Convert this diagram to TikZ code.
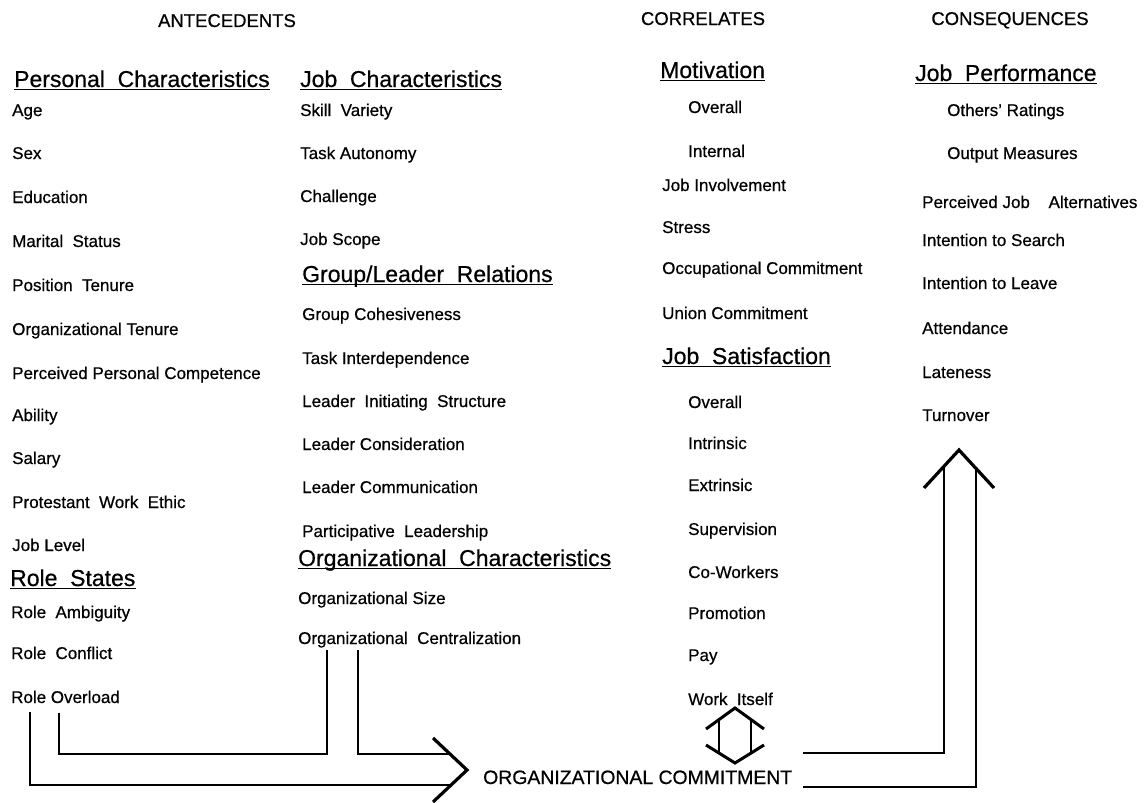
\documentclass[tikz,border=0pt]{standalone}
\usepackage{fontspec}
\setmainfont{Liberation Sans}[FakeBold=0.6]
\newcommand{\hsp}{\hspace{0.55em}}
\tikzset{
  item/.style={anchor=base west, inner sep=0pt, font=\fontsize{17}{20}\selectfont},
  head/.style={anchor=base west, inner sep=0pt, font=\fontsize{23}{26}\selectfont},
  ttl/.style={anchor=base, inner sep=0pt, font=\fontsize{18.5}{22}\selectfont},
  uline/.style={line width=1.6pt},
  pipe/.style={line width=2.6pt, line join=miter, line cap=butt},
}
\begin{document}
\begin{tikzpicture}[x=1pt,y=-1pt]
\path[use as bounding box] (0,0) rectangle (1146,803);
% titles
\node[ttl] (tant) at (227,27) {ANTECEDENTS};
\node[ttl] (tcor) at (703,25) {CORRELATES};
\node[ttl] (tcon) at (1010,25) {CONSEQUENCES};
% column 1
\node[head] (hpc) at (14,87) {Personal\hsp Characteristics};
\node[item] (a1) at (12,116) {Age};
\node[item] (a2) at (12,159) {Sex};
\node[item] (a3) at (12,203) {Education};
\node[item] (a4) at (12,247) {Marital\hsp Status};
\node[item] (a5) at (12,291) {Position\hsp Tenure};
\node[item] (a6) at (12,335) {Organizational Tenure};
\node[item] (a7) at (12,379) {Perceived Personal Competence};
\node[item] (a8) at (12,421) {Ability};
\node[item] (a9) at (12,464) {Salary};
\node[item] (a10) at (12,508) {Protestant\hsp Work\hsp Ethic};
\node[item] (a11) at (12,551) {Job Level};
\node[head] (hrs) at (10,586) {Role\hsp States};
\node[item] (r1) at (11,618) {Role\hsp Ambiguity};
\node[item] (r2) at (11,659) {Role\hsp Conflict};
\node[item] (r3) at (11,703) {Role Overload};
% column 2
\node[head] (hjc) at (300,87) {Job\hsp Characteristics};
\node[item] (j1) at (300,116) {Skill\hsp Variety};
\node[item] (j2) at (300,159) {Task Autonomy};
\node[item] (j3) at (300,202) {Challenge};
\node[item] (j4) at (300,245) {Job Scope};
\node[head] (hgl) at (302,282) {Group/Leader\hsp Relations};
\node[item] (g1) at (302,320) {Group Cohesiveness};
\node[item] (g2) at (302,364) {Task Interdependence};
\node[item] (g3) at (302,407) {Leader\hsp Initiating\hsp Structure};
\node[item] (g4) at (302,450) {Leader Consideration};
\node[item] (g5) at (302,493) {Leader Communication};
\node[item] (g6) at (302,537) {Participative\hsp Leadership};
\node[head] (hoc) at (298,566) {Organizational\hsp Characteristics};
\node[item] (o1) at (298,604) {Organizational Size};
\node[item] (o2) at (298,644) {Organizational\hsp Centralization};
% column 3
\node[head] (hmo) at (660,78) {Motivation};
\node[item] (m1) at (688,113) {Overall};
\node[item] (m2) at (688,157) {Internal};
\node[item] (c1) at (662,191) {Job Involvement};
\node[item] (c2) at (662,233) {Stress};
\node[item] (c3) at (662,274) {Occupational Commitment};
\node[item] (c4) at (662,319) {Union Commitment};
\node[head] (hjs) at (662,364) {Job\hsp Satisfaction};
\node[item] (s1) at (688,408) {Overall};
\node[item] (s2) at (688,449) {Intrinsic};
\node[item] (s3) at (688,491) {Extrinsic};
\node[item] (s4) at (688,535) {Supervision};
\node[item] (s5) at (688,578) {Co-Workers};
\node[item] (s6) at (688,619) {Promotion};
\node[item] (s7) at (688,661) {Pay};
\node[item] (s8) at (688,705) {Work\hsp Itself};
% column 4
\node[head] (hjp) at (915,81) {Job\hsp Performance};
\node[item] (p1) at (947,116) {Others' Ratings};
\node[item] (p2) at (947,159) {Output Measures};
\node[item] (q1) at (922,208) {Perceived Job\hsp\hsp Alternatives};
\node[item] (q2) at (922,246) {Intention to Search};
\node[item] (q3) at (922,289) {Intention to Leave};
\node[item] (q4) at (922,334) {Attendance};
\node[item] (q5) at (922,378) {Lateness};
\node[item] (q6) at (922,421) {Turnover};
% center
\node[anchor=base west, inner sep=0pt, font=\fontsize{19.4}{22}\selectfont] (oc) at (483,784) {ORGANIZATIONAL COMMITMENT};
% underlines
\foreach \h in {hpc,hrs,hjc,hgl,hoc,hmo,hjs,hjp}
  \draw[uline] ([yshift=-2.5pt]\h.base west) -- ([yshift=-2.5pt]\h.base east);
% left pipe arrow (antecedents -> commitment)
\coordinate (lo1) at (30,712);
\coordinate (lo2) at (30,785);
\coordinate (lo3) at (451,785);
\coordinate (li1) at (59,713);
\coordinate (li2) at (59,754);
\coordinate (li3) at (327,754);
\coordinate (li4) at (327,650);
\coordinate (lj1) at (358,650);
\coordinate (lj2) at (358,754);
\coordinate (lj3) at (451,754);
\coordinate (lh1) at (433,738);
\coordinate (lht) at (467,770);
\coordinate (lh2) at (433,802);
\draw[pipe] (lo1) -- (lo2) -- (lo3);
\draw[pipe] (li1) -- (li2) -- (li3) -- (li4);
\draw[pipe] (lj1) -- (lj2) -- (lj3);
\draw[pipe, line width=3.2pt] (lh1) -- (lht) -- (lh2);
% right pipe arrow (commitment -> consequences)
\coordinate (ri1) at (803,753);
\coordinate (ri2) at (944,753);
\coordinate (ri3) at (944,468);
\coordinate (ro1) at (803,787);
\coordinate (ro2) at (976,787);
\coordinate (ro3) at (976,470);
\coordinate (rh1) at (924,488);
\coordinate (rht) at (959,450);
\coordinate (rh2) at (994,488);
\draw[pipe] (ri1) -- (ri2) -- (ri3);
\draw[pipe] (ro1) -- (ro2) -- (ro3);
\draw[pipe, line width=3.2pt] (rh1) -- (rht) -- (rh2);
% double arrow between correlates and commitment
\coordinate (d1) at (706,729);
\coordinate (dt) at (735,708);
\coordinate (d2) at (764,729);
\coordinate (e1) at (706,745);
\coordinate (eb) at (735,763);
\coordinate (e2) at (764,745);
\draw[pipe, line width=3pt] (d1) -- (dt) -- (d2);
\draw[pipe, line width=3pt] (e1) -- (eb) -- (e2);
\draw[pipe] (719,720) -- (719,753);
\draw[pipe] (751,720) -- (751,753);
\end{tikzpicture}
\end{document}
